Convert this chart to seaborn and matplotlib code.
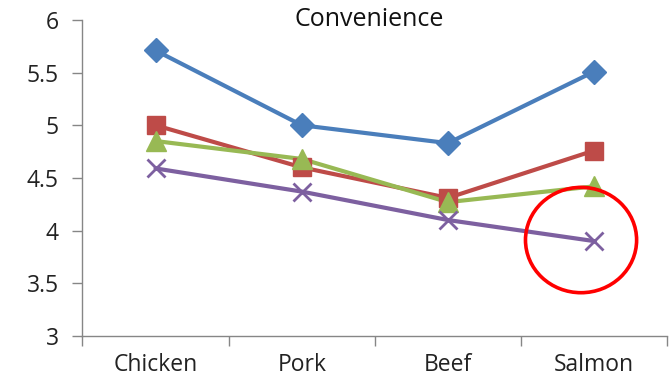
import matplotlib
matplotlib.use("Agg")
import matplotlib.pyplot as plt
from matplotlib.patches import Ellipse
import seaborn as sns
import pandas as pd
import numpy as np

categories = ["Chicken", "Pork", "Beef", "Salmon"]
series_names = ["Series 1", "Series 2", "Series 3", "Series 4"]
s1 = [5.71, 5.00, 4.83, 5.51]
s2 = [5.00, 4.60, 4.31, 4.76]
s3 = [4.85, 4.68, 4.27, 4.42]
s4 = [4.59, 4.37, 4.10, 3.90]
yticks = [3, 3.5, 4, 4.5, 5, 5.5, 6]
ytick_labels = ["3", "3.5", "4", "4.5", "5", "5.5", "6"]
title = "Convenience"

colors = ["#4A7EBB", "#BE4B48", "#98B954", "#7D60A0"]

sns.set_style("white")
plt.rcParams["font.family"] = ["Open Sans", "DejaVu Sans"]

rows = []
for name, vals in zip(series_names, [s1, s2, s3, s4]):
    for i, (c, v) in enumerate(zip(categories, vals)):
        rows.append({"series": name, "pos": i, "category": c, "value": v})
df = pd.DataFrame(rows)

fig = plt.figure(figsize=(6.7, 3.83), dpi=100)
ax = fig.add_axes([0.123, 0.123, 0.873, 0.825])

sns.lineplot(data=df, x="pos", y="value", hue="series", palette=colors,
             sort=False, legend=False, ax=ax, linewidth=3.0)

msizes = [12.5, 13, 14, 13]
mk = ["D", "s", "^", "x"]
for name, col, m, ms in zip(series_names, colors, mk, msizes):
    sub = df[df.series == name]
    ax.plot(sub.pos, sub.value, linestyle="none", marker=m, markersize=ms,
            color=col, markeredgecolor=col, markeredgewidth=(2 if m == "x" else 1))

ax.set_xlim(-0.5, 3.5)
ax.set_ylim(3, 6)
ax.set_yticks(yticks)
ax.set_yticklabels(ytick_labels)
ax.set_xticks(range(len(categories)))
ax.set_xticklabels(categories)
ax.set_xticks(np.arange(-0.5, 3.6, 1.0), minor=True)
ax.tick_params(axis="x", which="major", length=0, labelsize=16.5, pad=12, colors="#222222")
ax.tick_params(axis="x", which="minor", length=7, width=1, color="#868686", direction="out", bottom=True)
ax.tick_params(axis="y", which="major", length=7, width=1, color="#868686", direction="out", left=True,
               labelsize=16.5, pad=10, colors="#222222")
ax.set_xlabel("")
ax.set_ylabel("")
for s in ["top", "right"]:
    ax.spines[s].set_visible(False)
for s in ["left", "bottom"]:
    ax.spines[s].set_color("#868686")
    ax.spines[s].set_linewidth(1)

ax.text(1.46, 6.0, title, ha="center", va="center", fontsize=18, color="#111111")

ell = Ellipse((2.91, 3.91), 0.76, 1.0, fill=False, edgecolor="#FF0000", linewidth=2.6, zorder=5)
ax.add_patch(ell)

fig.savefig("out.png", dpi=100)
